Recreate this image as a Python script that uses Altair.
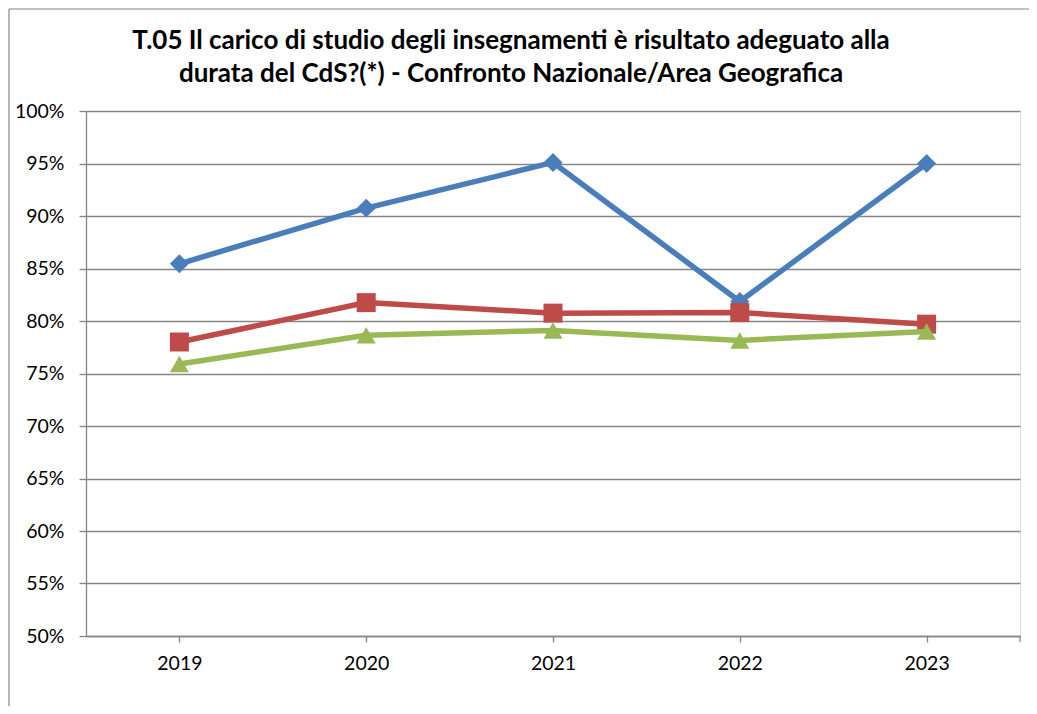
import altair as alt
import pandas as pd

years = ["2019", "2020", "2021", "2022", "2023"]
series_names = ["Corso di Studio", "Area Geografica", "Nazionale"]
blue_vals = [0.8545, 0.9075, 0.951, 0.8185, 0.950]
red_vals = [0.780, 0.8175, 0.8075, 0.808, 0.797]
green_vals = [0.759, 0.7865, 0.791, 0.7815, 0.790]
colors = ["#4A7EBB", "#BE4B48", "#98B954"]
shapes = ["diamond", "square", "triangle-up"]
y_ticks = [0.50, 0.55, 0.60, 0.65, 0.70, 0.75, 0.80, 0.85, 0.90, 0.95, 1.00]
title_lines = [
    "T.05 Il carico di studio degli insegnamenti è risultato adeguato alla",
    "durata del CdS?(*) - Confronto Nazionale/Area Geografica",
]

FONT = "Lato"
GRID = "#868686"
W, H = 934, 525

all_vals = [blue_vals, red_vals, green_vals]

x_enc = alt.X(
    "anno:N",
    sort=years,
    scale=alt.Scale(paddingInner=0, paddingOuter=0),
    axis=alt.Axis(
        title=None, labelAngle=0, bandPosition=0, domainColor=GRID, domainWidth=1.3,
        tickColor=GRID, tickWidth=1.3, tickSize=6, labelPadding=12,
        labelFont=FONT, labelFontSize=19.5, labelColor="#000000", grid=False,
    ),
)
y_enc = alt.Y(
    "valore:Q",
    scale=alt.Scale(domain=[0.5, 1.0], nice=False, zero=False),
    axis=alt.Axis(
        title=None, values=y_ticks, format=".0%", domainColor=GRID, domainWidth=1.3,
        tickColor=GRID, tickWidth=1.3, tickSize=7, labelPadding=15,
        labelFont=FONT, labelFontSize=19.5, labelColor="#000000",
        grid=True, gridColor=GRID, gridWidth=1.3,
    ),
)

layers = []
for name, vals, col, shp in zip(series_names, all_vals, colors, shapes):
    df = pd.DataFrame({"anno": years, "valore": vals, "serie": name})
    base = alt.Chart(df).encode(x=x_enc, y=y_enc)
    layers.append(base.mark_line(color=col, strokeWidth=5.5))
    layers.append(base.mark_point(shape=shp, filled=True, color=col, size=360, opacity=1))

one = pd.DataFrame({"k": [0]})
frame_left = alt.Chart(one).mark_rule(color=GRID, strokeWidth=1.2).encode(
    x=alt.value(-77), y=alt.value(-102), y2=alt.value(600)
)
frame_top = alt.Chart(one).mark_rule(color=GRID, strokeWidth=1.2).encode(
    x=alt.value(-77), x2=alt.value(960), y=alt.value(-102)
)
end_tick = alt.Chart(one).mark_rule(color=GRID, strokeWidth=1.3).encode(
    x=alt.value(W), y=alt.value(H), y2=alt.value(H + 6)
)

title_df = pd.DataFrame({"riga": title_lines, "n": [0, 1]})
title_layers = []
for i, line in enumerate(title_lines):
    title_layers.append(
        alt.Chart(title_df[title_df["n"] == i]).mark_text(
            font=FONT, fontSize=26, fontWeight="bold", color="#000000",
            align="center", baseline="alphabetic",
        ).encode(text="riga:N", x=alt.value(425), y=alt.value(-62 + 33 * i))
    )

chart = alt.layer(frame_left, frame_top, end_tick, *title_layers, *layers).properties(
    width=W,
    height=H,
    padding={"left": 78, "top": 103, "right": 9, "bottom": 70},
    autosize=alt.AutoSizeParams(type="none"),
).configure_view(stroke=None).configure(background="#ffffff")

chart.save("out.html", embed_options={"renderer": "svg", "actions": False})
